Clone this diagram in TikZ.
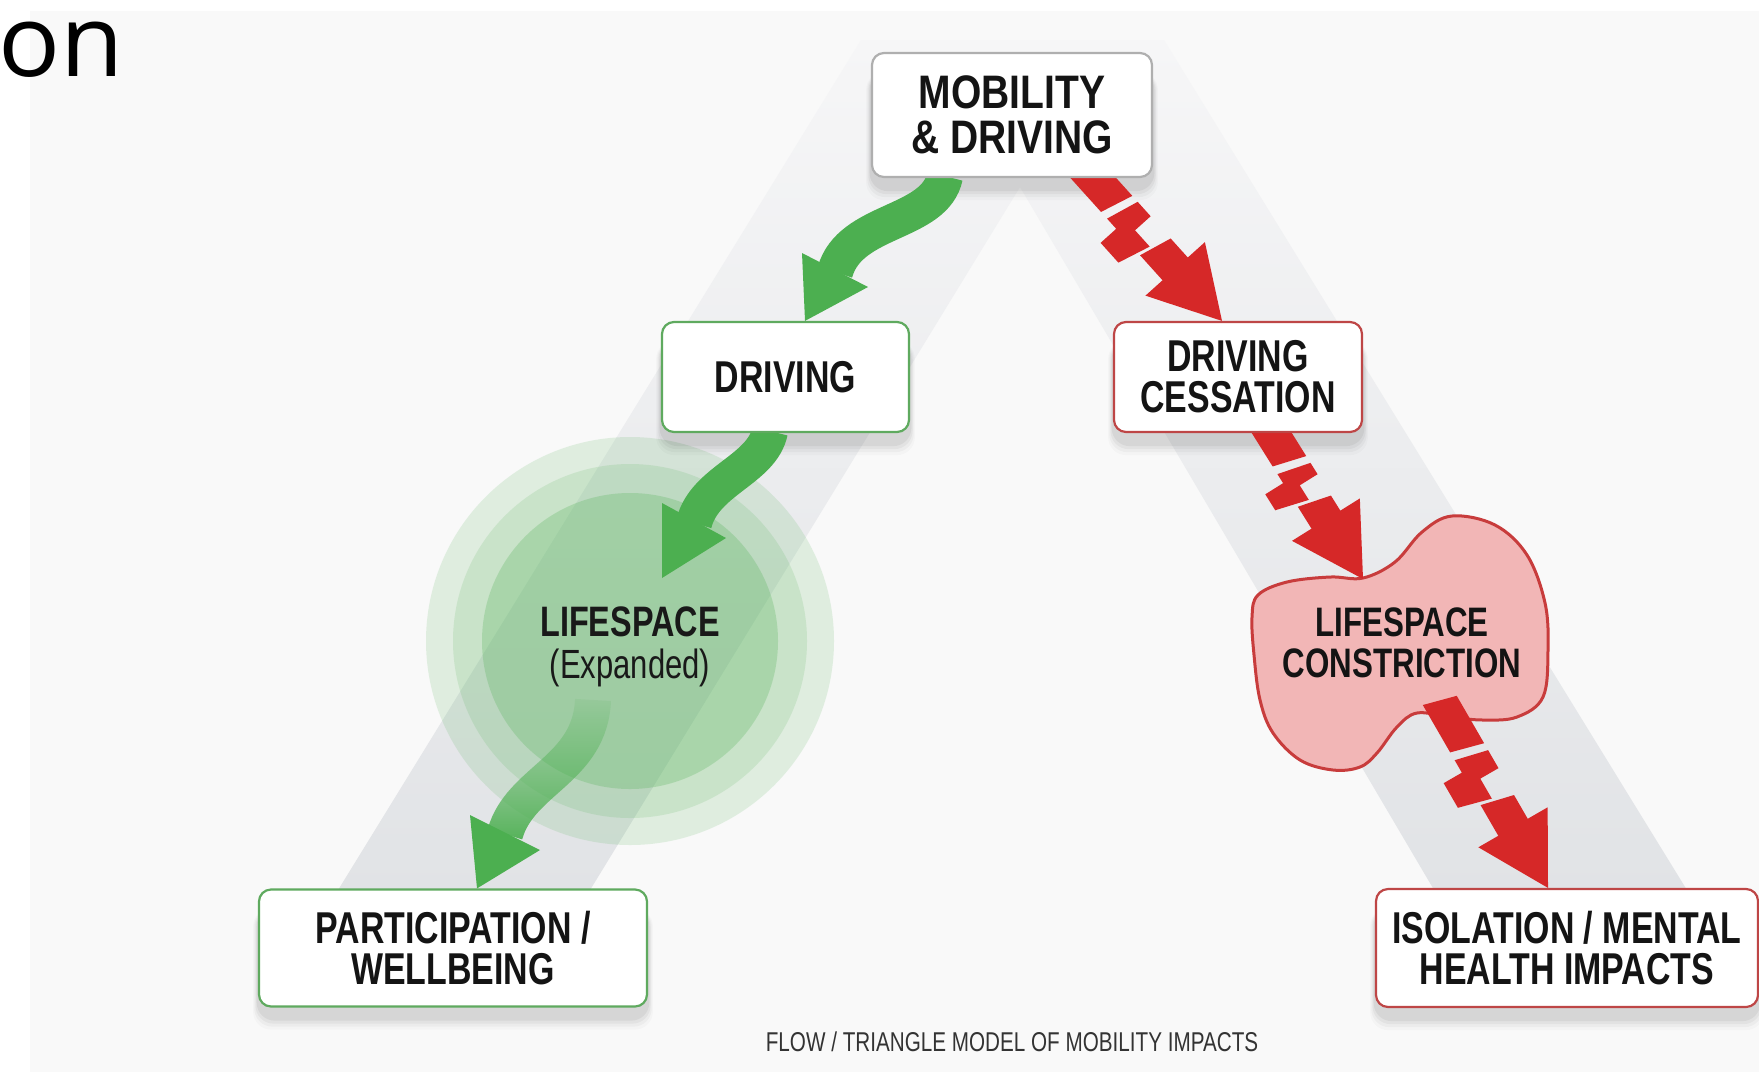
\documentclass[tikz,border=0pt]{standalone}
\usepackage{fontspec}
\setmainfont{Liberation Sans}
\newfontfamily\cnd{Liberation Sans}[FakeStretch=0.76]
\newfontfamily\cndw{Liberation Sans}[FakeStretch=0.83]
\newfontfamily\onfont{Open Sans}[FakeStretch=1.03]
\usetikzlibrary{calc,fadings}
\definecolor{gA}{RGB}{76,175,80}
\definecolor{gBox}{RGB}{95,170,95}
\definecolor{rA}{RGB}{214,40,40}
\definecolor{rBox}{RGB}{190,70,70}
\definecolor{blobF}{RGB}{242,182,182}
\definecolor{blobD}{RGB}{200,60,60}
\definecolor{bandB}{RGB}{225,227,230}
\definecolor{bandT}{RGB}{246,246,247}
\definecolor{panel}{RGB}{249,249,249}
\definecolor{mobD}{RGB}{175,175,175}
\pgfdeclarelayer{bg}
\pgfsetlayers{bg,main}
\tikzfading[name=topfade, top color=transparent!100, middle color=transparent!0, bottom color=transparent!0]
\tikzset{
  pics/bolt/.style={code={
    % first strip
    \fill[rA] ({-#1},-17) -- ({0.38*(#1-68)-#1},-17) -- ({0.38*(#1-68)-#1-9},17) -- ({-#1-9},17) -- cycle;
    % zig block
    \fill[rA] ({0.38*(#1-68)+8-#1},-17) -- ({0.58*(#1-68)-#1},-17) -- ({0.58*(#1-68)-#1},4) -- ({0.74*(#1-68)-#1},4) -- ({0.74*(#1-68)-#1-9},38) -- ({0.48*(#1-68)-#1},38) -- ({0.48*(#1-68)-#1},17) -- ({0.38*(#1-68)-#1},17) -- cycle;
    % stem into head
    \fill[rA] ({0.74*(#1-68)+8-#1},-17) -- (-66,-17) -- (-66,17) -- ({0.74*(#1-68)-#1},17) -- cycle;
    \fill[rA] (-70,-40) -- (0,0) -- (-70,40) -- cycle;
  }},
  boxbase/.style={rectangle, rounded corners=6pt, fill=white, line width=1.1pt, align=center, inner sep=0pt, text=black!92,
    font=\cnd\bfseries\fontsize{22.3}{20.5}\selectfont},
  gbox/.style={boxbase, draw=gBox},
  rbox/.style={boxbase, draw=rBox},
  mbox/.style={boxbase, draw=mobD, font=\cndw\bfseries\fontsize{23.5}{22.5}\selectfont},
  garrow/.style={gA, line width=18pt},
  shadowlayer/.style={black, rounded corners=9pt},
}
\begin{document}
\begin{tikzpicture}[x=0.5pt, y=-0.5pt]
\useasboundingbox (0,0) rectangle (1759,1072);
\begin{pgfonlayer}{bg}
\fill[white] (0,0) rectangle (1759,1072);
\fill[panel] (30,11) rectangle (1759,1072);
\shade[top color=bandT, bottom color=bandB] (335,895) -- (861,40) -- (1164,40) -- (1690,895) -- (1437,895) -- (1020,187) -- (587,895) -- cycle;
\coordinate (lc) at (630,641);
\fill[gA, opacity=0.15] (lc) circle[radius=102pt];
\fill[gA, opacity=0.15] (lc) circle[radius=88.5pt];
\fill[gA, opacity=0.25] (lc) circle[radius=74pt];
\end{pgfonlayer}

\node[anchor=base west, inner sep=0pt, font=\onfont\fontsize{50}{50}\selectfont] (ttl) at (-2,76) {on};

\node[mbox, minimum width=140pt, minimum height=62pt] (mob) at (1012,115) {MOBILITY\\\& DRIVING};
\node[gbox, minimum width=123.5pt, minimum height=55pt] (drv) at (785.5,377) {DRIVING};
\node[rbox, minimum width=124pt, minimum height=55pt] (ces) at (1238,377) {DRIVING\\CESSATION};
\node[gbox, minimum width=194pt, minimum height=58.5pt] (part) at (453,948) {PARTICIPATION /\\WELLBEING};
\node[rbox, minimum width=191pt, minimum height=59pt] (iso) at (1567,948) {ISOLATION / MENTAL\\HEALTH IMPACTS};

\begin{pgfonlayer}{bg}
\foreach \n in {mob,drv,ces,part,iso} {
  \foreach \e/\o in {12/0.02, 9/0.03, 6/0.04, 3/0.05} {
    \fill[shadowlayer, opacity=\o] ($(\n.south west)+(-0.4*\e,\e+10)$) rectangle ($(\n.north east)+(0.4*\e,20)$);
  }
}
\end{pgfonlayer}

\coordinate (g1s) at ($(mob.south)+(-67,-2)$);
\coordinate (g1b) at (835,272);
\coordinate (g1t) at ($(drv.north)+(19.5,0)$);
\coordinate (g2s) at ($(drv.south)+(-15.5,-2)$);
\coordinate (g2b) at (694,523);
\coordinate (g2t) at (662,578);
\coordinate (g3s) at (593,700);
\coordinate (g3b) at (505,834);
\coordinate (g3t) at ($(part.north)+(24,0)$);
\coordinate (bin) at (1363,579);

\begin{pgfonlayer}{bg}
\draw[garrow] (g1s) .. controls (935,225) and (850,218) .. (g1b);
\fill[gA] (802,253) -- (868,287) -- (g1t) -- cycle;
\draw[garrow] (g2s) .. controls (762,470) and (705,480) .. (g2b);
\fill[gA] (662,503) -- (726,538) -- (g2t) -- cycle;
\draw[garrow, path fading=topfade] (g3s) .. controls (590,770) and (520,780) .. (g3b);
\fill[gA] (470,815) -- (540,850) -- (g3t) -- cycle;
\draw[blobD, line width=1.5pt, fill=blobF] plot[smooth cycle, tension=0.6] coordinates {
 (1252,617) (1258,595) (1287,582) (1330,577) (1363,578) (1395,562) (1422,532) (1452,516)
 (1495,525) (1527,555) (1545,603) (1548,650) (1543,697) (1517,717) (1483,720) (1450,717)
 (1417,713) (1397,727) (1377,753) (1360,767) (1333,770) (1300,760) (1273,733) (1260,700) (1254,655)};
\pic[rotate=-48] at ($(ces.north)+(-16,0)$) {bolt=205};
\pic[rotate=-58] at (bin) {bolt=175};
\pic[rotate=-60] at ($(iso.north)+(-19,0)$) {bolt=212};
\end{pgfonlayer}

\node[align=center, inner sep=0pt, text=black!90] (life) at (630,647) {{\cnd\bfseries\fontsize{21.3}{20}\selectfont LIFESPACE}\\[5pt]{\cnd\fontsize{20.4}{20}\selectfont (Expanded)}};
\node[align=center, inner sep=0pt, text=black!92, font=\cnd\bfseries\fontsize{20.6}{20.5}\selectfont] (blob) at (1402,643) {LIFESPACE\\CONSTRICTION};
\node[anchor=base, inner sep=0pt, text=black!80, font=\cnd\fontsize{13.6}{16}\selectfont] (cap) at (1012,1051) {FLOW / TRIANGLE MODEL OF MOBILITY IMPACTS};
\end{tikzpicture}
\end{document}
